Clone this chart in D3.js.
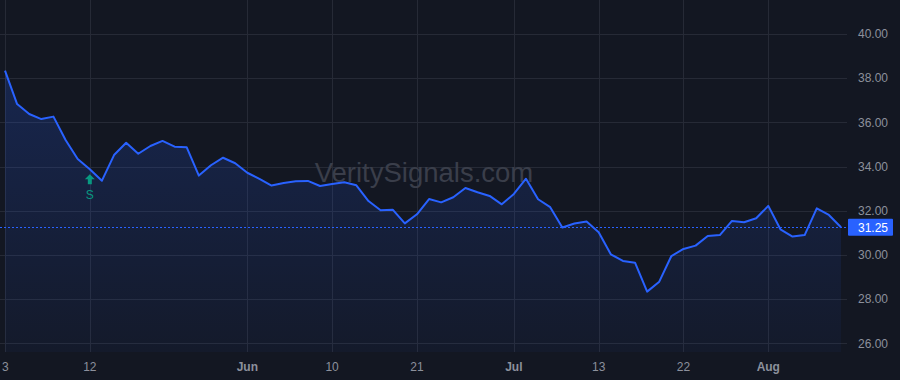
<html>
<head>
<script src="https://d3js.org/d3.v7.min.js"></script>
<style>
  body { margin: 0; background: #131722; }
  svg { display: block; }
  text { font-family: "Liberation Sans", Arial, sans-serif; }
</style>
</head>
<body>
<svg id="chart" width="900" height="380"></svg>
<script>
    // daily closes
    const closes = [
        38.34, 36.83, 36.38, 36.15, 36.26, 35.20, 34.34, 33.88, 33.36, 34.52,
        35.08, 34.58, 34.93, 35.16, 34.90, 34.87, 33.59, 34.06, 34.40, 34.15,
        33.72, 33.44, 33.14, 33.26, 33.33, 33.35, 33.12, 33.21, 33.29, 33.15,
        32.44, 32.02, 32.05, 31.43, 31.84, 32.53, 32.38, 32.61, 33.03, 32.84,
        32.67, 32.29, 32.76, 33.45, 32.52, 32.16, 31.24, 31.42, 31.51, 31.03,
        30.03, 29.73, 29.65, 28.34, 28.79, 29.95, 30.27, 30.42, 30.86, 30.90,
        31.54, 31.48, 31.66, 32.22, 31.16, 30.83, 30.90, 32.11, 31.81, 31.25
    ];
    const tickIdx = [0, 7, 20, 27, 34, 42, 49, 56, 63];
    const tickLabels = ["3", "12", "Jun", "10", "21", "Jul", "13", "22", "Aug"];
    const monthLabels = ["Jun", "Jul", "Aug"];
    const priceTicks = [26, 28, 30, 32, 34, 36, 38, 40];
    const lastPrice = 31.25;
    const signals = [{ i: 7, label: "S" }];

    const svg = d3.select("#chart");
    const plotRight = 847, plotBottom = 352;

    const x = d3.scaleLinear().domain([0, closes.length - 1]).range([5, 841]);
    const y = d3.scaleLinear().domain([26, 40]).range([343.3, 34]);

    const defs = svg.append("defs");
    const grad = defs.append("linearGradient")
        .attr("id", "fill").attr("x1", 0).attr("y1", 0).attr("x2", 0).attr("y2", 1);
    grad.append("stop").attr("offset", "0%").attr("stop-color", "#2962ff").attr("stop-opacity", 0.2);
    grad.append("stop").attr("offset", "100%").attr("stop-color", "#2962ff").attr("stop-opacity", 0.04);

    // grid
    const grid = svg.append("g").attr("stroke", "#262a36").attr("stroke-width", 1);
    grid.selectAll(".h").data(priceTicks).join("line")
        .attr("x1", 0).attr("x2", plotRight)
        .attr("y1", d => Math.round(y(d)) + 0.5).attr("y2", d => Math.round(y(d)) + 0.5);
    grid.selectAll(".v").data(tickIdx).join("line")
        .attr("y1", 0).attr("y2", plotBottom)
        .attr("x1", d => Math.round(x(d)) + 0.5).attr("x2", d => Math.round(x(d)) + 0.5);

    // watermark
    svg.append("text")
        .attr("x", 424).attr("y", 182)
        .attr("text-anchor", "middle")
        .attr("font-size", 27.5)
        .attr("fill", "#3a3e4a")
        .text("VeritySignals.com");

    // area + line
    const area = d3.area()
        .x((d, i) => x(i))
        .y0(plotBottom)
        .y1(d => y(d));
    svg.append("path").datum(closes).attr("d", area).attr("fill", "url(#fill)");

    const line = d3.line().x((d, i) => x(i)).y(d => y(d));
    svg.append("path").datum(closes).attr("d", line)
        .attr("fill", "none").attr("stroke", "#2962ff").attr("stroke-width", 2)
        .attr("stroke-linejoin", "round");

    // last price dotted line
    svg.append("line")
        .attr("x1", 0).attr("x2", plotRight)
        .attr("y1", Math.round(y(lastPrice)) + 0.5).attr("y2", Math.round(y(lastPrice)) + 0.5)
        .attr("stroke", "#2962ff").attr("stroke-width", 1).attr("stroke-dasharray", "2,2");

    // signal markers
    const sig = svg.append("g").selectAll("g").data(signals).join("g")
        .attr("transform", d => `translate(${x(d.i)},${y(closes[d.i]) + 5})`);
    sig.append("path")
        .attr("d", "M0,0 L5,5 L2,5 L2,10 L-2,10 L-2,5 L-5,5 Z")
        .attr("fill", "#089981");
    sig.append("text")
        .attr("y", 25).attr("text-anchor", "middle")
        .attr("font-size", 12).attr("fill", "#089981")
        .text(d => d.label);

    // price axis
    const yAxis = svg.append("g");
    yAxis.selectAll("text").data(priceTicks).join("text")
        .attr("x", 858).attr("y", d => y(d)).attr("dy", "0.35em")
        .attr("font-size", 12).attr("fill", "#8c909c")
        .text(d => d3.format(".2f")(d));

    const badge = svg.append("g").attr("transform", `translate(848,${y(lastPrice)})`);
    badge.append("rect").attr("x", 0).attr("y", -8.5).attr("width", 45).attr("height", 17)
        .attr("rx", 1).attr("fill", "#2962ff");
    badge.append("text").attr("x", 10).attr("dy", "0.35em")
        .attr("font-size", 12).attr("fill", "#ffffff")
        .text(d3.format(".2f")(lastPrice));

    // time axis
    const xAxis = svg.append("g");
    xAxis.selectAll("text").data(tickIdx).join("text")
        .attr("x", d => x(d)).attr("y", 371)
        .attr("text-anchor", (d, i) => i === 0 ? "start" : "middle")
        .attr("dx", (d, i) => i === 0 ? -3 : 0)
        .attr("font-size", 12)
        .attr("font-weight", (d, i) => monthLabels.includes(tickLabels[i]) ? "bold" : "normal")
        .attr("fill", "#8c909c")
        .text((d, i) => tickLabels[i]);
</script>
</body>
</html>
